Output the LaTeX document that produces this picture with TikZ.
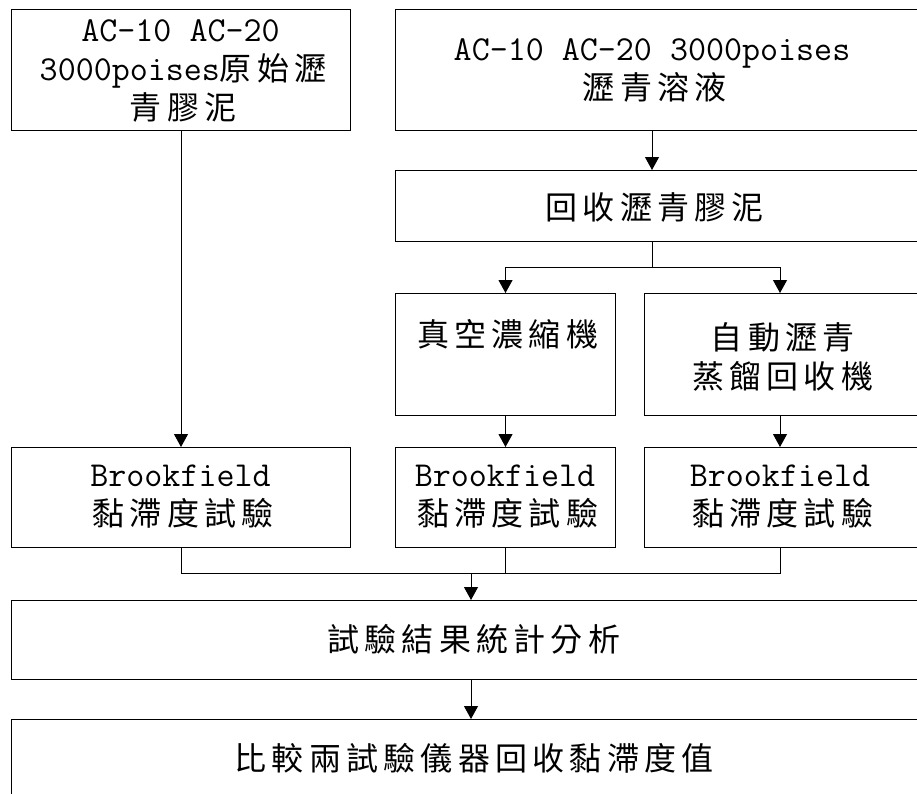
\documentclass[tikz,border=0pt]{standalone}
\usepackage{fontspec}
\usetikzlibrary{arrows.meta}
\newfontfamily\zhfont[LetterSpace=16.5]{Noto Sans CJK TC}
\newcommand\zh[1]{{\zhfont\fontsize{32}{39}\selectfont #1\kern-5.3pt}}
\newcommand\en[1]{{\ttfamily\fontsize{35}{39}\selectfont #1}}
\begin{document}
\begin{tikzpicture}[x=1pt,y=-1pt,
  box/.style={draw=black, line width=1pt, rectangle, inner sep=0pt, anchor=north west},
  txt/.style={align=center, inner sep=0pt, font=\fontsize{32}{39}\selectfont},
  link/.style={draw=black, line width=1pt},
  arr/.style={link, -{Triangle[width=14pt,length=13pt]}}]
\useasboundingbox (0,0) rectangle (917,793);
\clip (0,0) rectangle (917,793);
% boxes
\node[box, minimum width=339, minimum height=121] (a) at (11,9) {};
\node[box, minimum width=545, minimum height=121] (b) at (395,9) {};
\node[box, minimum width=545, minimum height=71] (c) at (395,170) {};
\node[box, minimum width=220, minimum height=122] (d) at (395,293) {};
\node[box, minimum width=296, minimum height=122] (e) at (644,293) {};
\node[box, minimum width=339, minimum height=100] (h) at (11,447) {};
\node[box, minimum width=220, minimum height=100] (f) at (395,447) {};
\node[box, minimum width=296, minimum height=100] (g) at (644,447) {};
\node[box, minimum width=929, minimum height=79] (i) at (11,600) {};
\node[box, minimum width=929, minimum height=90] (j) at (11,719) {};
% texts
\node[txt] (at) at (180.5,71) {\en{AC-10 AC-20}\\\en{3000poises}\zh{原始瀝}\\\zh{青膠泥}};
\node[txt] (bt) at (652,70.5) {\en{AC-10 AC-20 3000poises}\\\zh{瀝青溶液}};
\node[txt] (ct) at (652,207.5) {\zh{回收瀝青膠泥}};
\node[txt] (dt) at (505,334) {\zh{真空濃縮機}};
\node[txt] (et) at (780,357) {\zh{自動瀝青}\\\zh{蒸餾回收機}};
\node[txt] (ht) at (180.5,497) {\en{Brookfield}\\\zh{黏滯度試驗}};
\node[txt] (ft) at (505,497) {\en{Brookfield}\\\zh{黏滯度試驗}};
\node[txt] (gt) at (780,497) {\en{Brookfield}\\\zh{黏滯度試驗}};
\node[txt] (it) at (471,639) {\zh{試驗結果統計分析}};
\node[txt] (jt) at (471.5,758.5) {\zh{比較兩試驗儀器回收黏滯度值}};
% connectors
\draw[arr] (a.south) -- (h.north);
\draw[arr] (b.south -| bt) -- (c.north -| bt);
\draw[link] (c.south -| ct) -- ++(0,25) coordinate (split);
\draw[arr] (split) -| (d.north);
\draw[arr] (split) -| (e.north -| et);
\draw[arr] (d.south) -- (f.north);
\draw[arr] (e.south -| et) -- (g.north -| gt);
\draw[link] (h.south) -- ++(0,25) coordinate (hm) -- (hm -| gt) -- (g.south -| gt);
\draw[link] (f.south) -- (f.south |- hm);
\draw[arr] (hm -| it) -- (i.north -| it);
\draw[arr] (i.south -| it) -- (j.north -| it);
\end{tikzpicture}
\end{document}
